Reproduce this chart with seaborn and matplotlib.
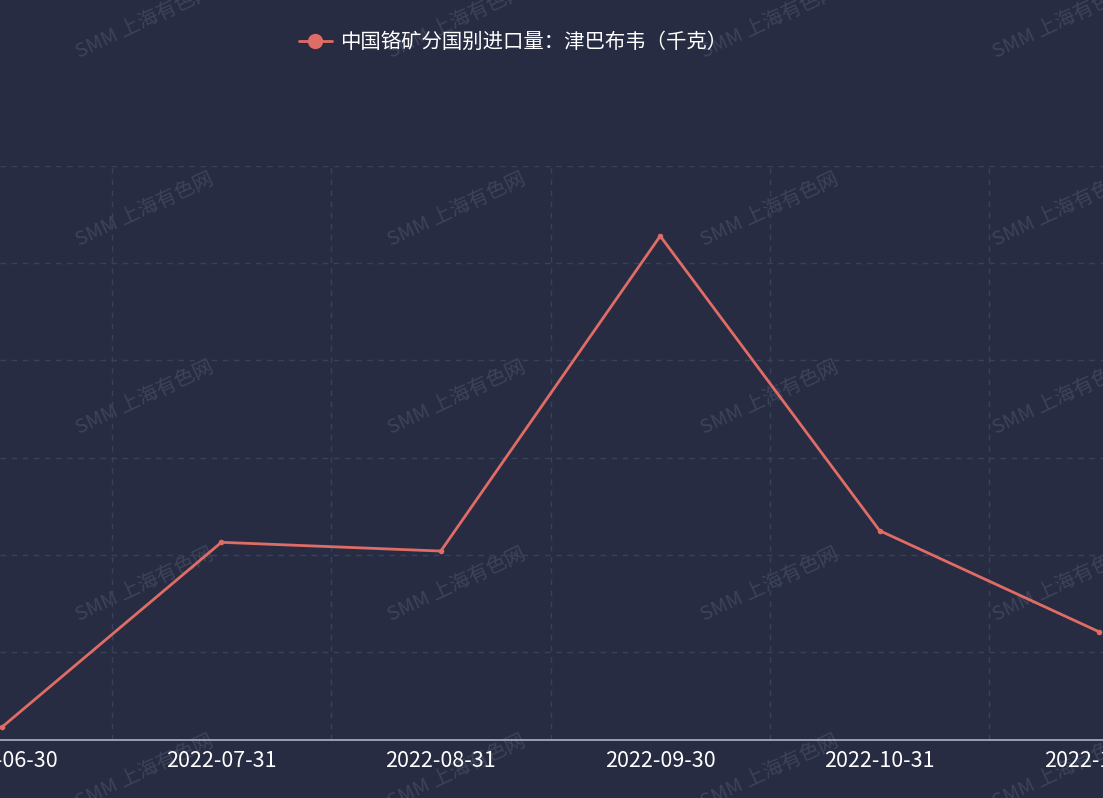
import matplotlib
matplotlib.use("Agg")
import matplotlib.pyplot as plt
import seaborn as sns
import pandas as pd

# data (kg)
dates = ["2022-06-30", "2022-07-31", "2022-08-31", "2022-09-30", "2022-10-31", "2022-11-30"]
values = [230, 2130, 2040, 5280, 2250, 1210]
y_grid = [1000, 2000, 3000, 4000, 5000, 6000]
series_name = "中国铬矿分国别进口量：津巴布韦（千克）"

BG = "#272c43"
LINE = "#e06c66"
GRID = "#37415b"
AXIS = "#aeb2c4"
WM = "#3d4358"

sns.set_theme(style="dark")
plt.rcParams["font.family"] = ["Noto Sans CJK SC", "DejaVu Sans"]

df = pd.DataFrame({"date": dates, "value": values, "pos": range(len(dates))})

fig = plt.figure(figsize=(11.03, 7.98), dpi=100, facecolor=BG)
ax = fig.add_axes([0, 1 - 740 / 798, 1, (740 - 166) / 798])
ax.set_facecolor("none")

# watermark, behind the line
for yc in [22, 210, 398, 585, 772]:
    for xc in [145, 457, 770, 1062]:
        ax.text(xc / 1103, 1 - yc / 798, "SMM 上海有色网", color=WM, fontsize=14.5,
                rotation=25, ha="center", va="center", transform=fig.transFigure,
                clip_on=False, zorder=0.5)

sns.lineplot(data=df, x="pos", y="value", ax=ax, color=LINE, linewidth=2,
             marker="o", markersize=4, markeredgewidth=0, label=series_name, zorder=3)

ax.set_xlim(-2 / 219.4, 5 + 4 / 219.4)
ax.set_ylim(97, 6000)
ax.set_xticks(range(len(dates)))
ax.set_xticklabels(dates, color="white", fontsize=15.5)
ax.set_xticks([i + 0.5 for i in range(len(dates) - 1)], minor=True)
ax.tick_params(axis="x", which="major", length=0, pad=7)
ax.tick_params(axis="x", which="minor", length=5, color=AXIS, width=1, direction="out")
ax.set_yticks(y_grid)
ax.set_yticklabels([])
ax.tick_params(axis="y", length=0)
ax.set_xlabel("")
ax.set_ylabel("")

ax.grid(False)
ax.grid(axis="y", which="major", color=GRID, linestyle=(0, (4, 4)), linewidth=1)
ax.grid(axis="x", which="minor", color=GRID, linestyle=(0, (4, 4)), linewidth=1)
for side in ["top", "right", "left"]:
    ax.spines[side].set_visible(False)
ax.spines["bottom"].set_color(AXIS)
ax.spines["bottom"].set_linewidth(1.2)

leg = ax.legend(loc="upper center", bbox_to_anchor=(0.465, 1 - 14 / 798), bbox_transform=fig.transFigure,
                frameon=False, fontsize=14.7, labelcolor="white", handlelength=1.6, handletextpad=0.4)
for h in leg.legend_handles:
    h.set_markersize(11)

fig.savefig("out.png", dpi=100, facecolor=BG)
